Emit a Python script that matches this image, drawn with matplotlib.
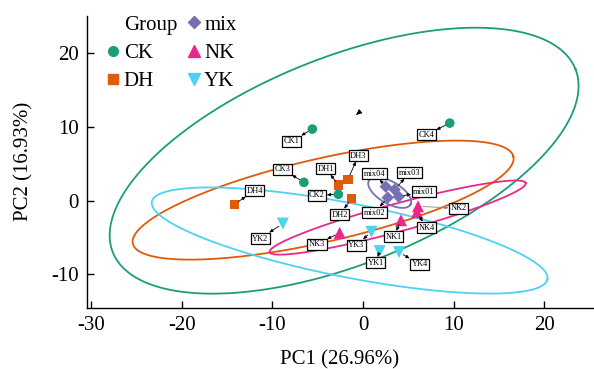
import numpy as np
import matplotlib
matplotlib.use("Agg")
import matplotlib.pyplot as plt
from matplotlib.lines import Line2D

plt.rcParams['font.family'] = ['Liberation Serif', 'DejaVu Serif']
plt.rcParams['axes.unicode_minus'] = False

# ---------------- data ----------------
groups = ["CK", "DH", "mix", "NK", "YK"]
colors = {"CK": "#1b9e77", "DH": "#e15a0a", "mix": "#7570b3", "NK": "#e7298a", "YK": "#4dd2f2"}
markers = {"CK": "o", "DH": "s", "mix": "D", "NK": "^", "YK": "v"}

sample_names = ["CK1", "CK2", "CK3", "CK4",
                "DH1", "DH2", "DH3", "DH4",
                "mix01", "mix02", "mix03", "mix04",
                "NK1", "NK2", "NK3", "NK4",
                "YK1", "YK2", "YK3", "YK4"]
sample_group = ["CK"] * 4 + ["DH"] * 4 + ["mix"] * 4 + ["NK"] * 4 + ["YK"] * 4
pc1 = [-5.59, -2.72, -6.52, 9.58,
       -2.68, -1.25, -1.66, -14.2,
       3.94, 2.73, 3.50, 2.51,
       4.20, 6.08, -2.57, 5.97,
       1.84, -8.84, 0.93, 3.98]
pc2 = [9.72, 0.87, 2.49, 10.53,
       2.14, 0.28, 2.86, -0.5,
       0.55, 0.42, 1.50, 1.91,
       -2.65, -0.76, -4.36, -1.57,
       -6.85, -3.10, -4.22, -6.98]

# label anchor positions (data units)
label_x = [-7.91, -5.08, -8.90, 7.00,
           -4.12, -2.57, -0.51, -11.97,
           6.72, 1.28, 5.15, 1.28,
           3.39, 10.57, -5.08, 7.00,
           1.40, -11.34, -0.73, 6.26]
label_y = [8.04, 0.73, 4.30, 8.94,
           4.34, -1.88, 6.12, 1.37,
           1.24, -1.61, 3.80, 3.67,
           -4.90, -1.03, -5.90, -3.64,
           -8.42, -5.13, -6.04, -8.64]

# confidence ellipses: centre (data), semi-axes (px), angle (deg, screen)
ell_group = ["CK", "DH", "YK", "NK", "mix"]
ell_cx = [-2.08, -4.40, -1.47, 3.83, 2.95]
ell_cy = [5.43, 0.08, -5.40, -2.29, 1.10]
ell_a = [248.8, 195.2, 201.6, 132.6, 24.0]
ell_b = [103.7, 41.6, 36.9, 14.0, 11.0]
ell_ang = [21.6, 12.9, -11.1, 15.1, -30.0]

x_ticks = [-30, -20, -10, 0, 10, 20]
y_ticks = [-10, 0, 10, 20]
xlim = (-30.46, 25.39)
ylim = (-14.49, 25.06)

# ---------------- figure ----------------
W, H = 594, 369
fig = plt.figure(figsize=(W / 100, H / 100), dpi=100)
L, R, T, B = 87, 593, 16, 307.5
ax = fig.add_axes([L / W, (H - B) / H, (R - L) / W, (B - T) / H])
ax.set_xlim(*xlim)
ax.set_ylim(*ylim)
sx = (R - L) / (xlim[1] - xlim[0])
sy = (B - T) / (ylim[1] - ylim[0])

# ellipses
t = np.linspace(0, 2 * np.pi, 400)
for g, cx, cy, a, b, ang in zip(ell_group, ell_cx, ell_cy, ell_a, ell_b, ell_ang):
    th = np.deg2rad(ang)
    px = a * np.cos(t) * np.cos(th) - b * np.sin(t) * np.sin(th)
    py = a * np.cos(t) * np.sin(th) + b * np.sin(t) * np.cos(th)
    ax.plot(cx + px / sx, cy + py / sy, color=colors[g], lw=1.3, zorder=2)

# points
msize = {"o": 48, "s": 45, "D": 40, "^": 75, "v": 75}
for g in groups:
    xs = [x for x, gg in zip(pc1, sample_group) if gg == g]
    ys = [y for y, gg in zip(pc2, sample_group) if gg == g]
    ax.scatter(xs, ys, s=msize[markers[g]], marker=markers[g], color=colors[g],
               edgecolors='none', zorder=3)

# labels with arrows
for name, x, y, lx, ly in zip(sample_names, pc1, pc2, label_x, label_y):
    acol = "#888888" if name == "NK2" else "black"
    ax.annotate(name, xy=(x, y), xytext=(lx, ly), fontsize=6,
                ha='center', va='center', zorder=5,
                bbox=dict(boxstyle='square,pad=0.18', fc='white', ec='black', lw=0.9),
                arrowprops=dict(arrowstyle='<|-,head_length=0.35,head_width=0.15',
                                color=acol, lw=0.6, shrinkA=0, shrinkB=3.5))

# stray arrowhead
ax.annotate('', xy=(-0.78, 11.62), xytext=(-0.45, 11.95),
            arrowprops=dict(arrowstyle='-|>,head_length=0.35,head_width=0.15',
                            color='black', lw=0.6, shrinkA=0, shrinkB=0))

# axes styling
for s in ['top', 'right']:
    ax.spines[s].set_visible(False)
for s in ['left', 'bottom']:
    ax.spines[s].set_linewidth(1.0)
ax.set_xticks(x_ticks)
ax.set_yticks(y_ticks)
ax.set_xticklabels([str(v) for v in x_ticks])
ax.set_yticklabels([str(v) for v in y_ticks])
ax.tick_params(direction='in', length=5, width=1.0, labelsize=15, pad=6)
ax.set_xlabel("PC1 (26.96%)", fontsize=15, labelpad=11)
ax.set_ylabel("PC2 (16.93%)", fontsize=15, labelpad=13)

# legend
handles = [Line2D([], [], linestyle='none', marker=None)]
labels = ["Group"]
for g in ["CK", "DH"]:
    handles.append(Line2D([], [], linestyle='none', marker=markers[g], color=colors[g], markersize=7))
    labels.append(g)
for g in ["mix", "NK", "YK"]:
    ms = 8 if g in ("NK", "YK") else 6
    handles.append(Line2D([], [], linestyle='none', marker=markers[g], color=colors[g], markersize=ms))
    labels.append(g)
leg = fig.legend(handles, labels, ncol=2, loc='upper left',
                 bbox_to_anchor=(107 / W, 1 - 15 / H), frameon=False,
                 fontsize=15, handlelength=0.6, handletextpad=0.2,
                 columnspacing=0.5, labelspacing=0.42, borderpad=0, borderaxespad=0)

fig.savefig("out.png", dpi=100)
